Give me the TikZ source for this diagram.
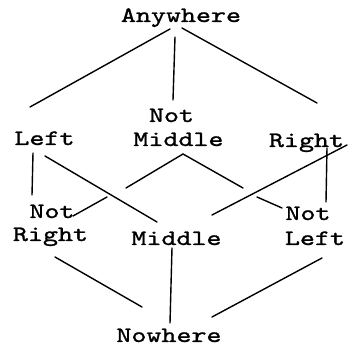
\documentclass[tikz,border=0pt]{standalone}
\usepackage{fontspec}
\newfontfamily\lblfont[FakeStretch=1.3,FakeBold=1.2]{lmmono10-regular.otf}
\begin{document}
\begin{tikzpicture}[x=1pt,y=-1pt,
  lbl/.style={anchor=base,inner sep=0pt,font=\lblfont\fontsize{22}{22}\selectfont},
  ln/.style={line width=1.4pt,line cap=round}]
\useasboundingbox (0,0) rectangle (349,347);
% labels
\node[lbl] (any) at (181,22) {Anywhere};
\node[lbl] (left) at (44.5,145) {Left};
\node[lbl] (nmnot) at (171.5,122) {Not};
\node[lbl] (nmmid) at (178.5,146) {Middle};
\node[lbl] (right) at (306.5,147) {Right};
\node[lbl] (nrnot) at (52,218) {Not};
\node[lbl] (nrright) at (50.5,241) {Right};
\node[lbl] (mid) at (176.5,245) {Middle};
\node[lbl] (nlnot) at (308,220) {Not};
\node[lbl] (nlleft) at (315,245) {Left};
\node[lbl] (now) at (169,342) {Nowhere};
% connector end points
\coordinate (a1) at (170,29);  \coordinate (l1) at (30,107);
\coordinate (a2) at (175,37);  \coordinate (m1) at (173,100);
\coordinate (a3) at (182,28);  \coordinate (r1) at (317,103);
\coordinate (l2) at (33,153);  \coordinate (nr1) at (32,195);
\coordinate (l3) at (45,156);  \coordinate (md1) at (157,222);
\coordinate (m2) at (183,154);
\coordinate (g1) at (126,188); \coordinate (g2) at (107,197); \coordinate (nr2) at (73,216);
\coordinate (g3) at (243,188); \coordinate (g4) at (257,197); \coordinate (nl1) at (282,208);
\coordinate (md2) at (212,215); \coordinate (r2) at (347,145);
\coordinate (r3) at (327,148); \coordinate (nl2) at (326,202);
\coordinate (nr3) at (55,257); \coordinate (w1) at (142,307);
\coordinate (md3) at (172,248); \coordinate (w2) at (170,323);
\coordinate (nl3) at (322,258); \coordinate (w3) at (212,317);
% connectors
\draw[ln] (a1) -- (l1);
\draw[ln] (a2) -- (m1);
\draw[ln] (a3) -- (r1);
\draw[ln] (l2) -- (nr1);
\draw[ln] (l3) -- (md1);
\draw[ln] (g1) -- (m2) -- (g3);
\draw[ln] (g2) -- (nr2);
\draw[ln] (g4) -- (nl1);
\draw[ln] (md2) -- (r2);
\draw[ln] (r3) -- (nl2);
\draw[ln] (nr3) -- (w1);
\draw[ln] (md3) -- (w2);
\draw[ln] (nl3) -- (w3);
\end{tikzpicture}
\end{document}
